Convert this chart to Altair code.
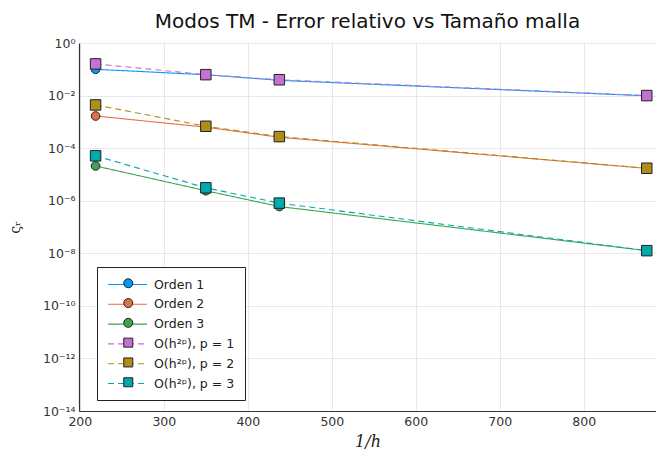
import math
import altair as alt
import pandas as pd

# ---- data ----
inv_h = [218.75, 350.0, 437.5, 875.0]
series_names = ["Orden 1", "Orden 2", "Orden 3",
                "O(h²ᵖ), p = 1", "O(h²ᵖ), p = 2", "O(h²ᵖ), p = 3"]
orden1 = [0.100, 0.062, 0.038, 0.0098]
orden2 = [1.67e-3, 6.3e-4, 2.6e-4, 1.7e-5]
orden3 = [2.1e-5, 2.4e-6, 6.0e-7, 1.26e-8]
ref1 = [0.16, 0.0625, 0.040, 0.010]
ref2 = [4.4e-3, 6.8e-4, 2.75e-4, 1.72e-5]
ref3 = [5.1e-5, 3.1e-6, 8.1e-7, 1.26e-8]

colors = ["#009AFA", "#E36F47", "#3EA44E", "#C371D2", "#AC8E18", "#00A9AD"]
outline = ["#222222"] * 6
shapes = ["circle", "circle", "circle", "square", "square", "square"]
dashes = [[1, 0], [1, 0], [1, 0], [6, 4], [6, 4], [6, 4]]

y_ticks = [1e0, 1e-2, 1e-4, 1e-6, 1e-8, 1e-10, 1e-12, 1e-14]
y_tick_labels = ["10⁰", "10⁻²", "10⁻⁴", "10⁻⁶", "10⁻⁸", "10⁻¹⁰", "10⁻¹²", "10⁻¹⁴"]
x_ticks = [200, 300, 400, 500, 600, 700, 800]

all_values = [orden1, orden2, orden3, ref1, ref2, ref3]
rows = []
for name, vals in zip(series_names, all_values):
    for xv, yv in zip(inv_h, vals):
        rows.append({"x": xv, "y": yv, "series": name, "series_m": name})
df = pd.DataFrame(rows)

# label expression built from the tick label list
expr = "''"
for t, lab in reversed(list(zip(y_ticks, y_tick_labels))):
    expr = f"abs(log(datum.value)/LN10 - ({round(math.log10(t))})) < 0.01 ? '{lab}' : {expr}"

x_enc = alt.X("x:Q", scale=alt.Scale(domain=[199.0, 886.0], nice=False, zero=False),
              axis=alt.Axis(values=x_ticks, title="1/h", titleFont="DejaVu Serif",
                            titleFontStyle="italic", titleFontSize=16, titleFontWeight="normal",
                            titlePadding=6, labelFlush=False))
y_enc = alt.Y("y:Q", scale=alt.Scale(type="log", domain=[1e-14, 1], nice=False),
              axis=alt.Axis(values=y_ticks, labelExpr=expr, title="ςᵣ",
                            titleFont="DejaVu Serif", titleFontSize=14, titleFontWeight="normal",
                            titlePadding=20))

LX, LY = 18, 224
leg1 = dict(orient="none", title=None, legendX=LX, legendY=LY,
            symbolType="M-1,0H5", symbolSize=169, symbolStrokeWidth=1.1,
            labelFontSize=12.5, labelColor="#222", labelFont="DejaVu Sans",
            labelOffset=32, padding=10, rowPadding=5.8,
            strokeColor="#222", fillColor="white")
leg2 = dict(orient="none", title=None, legendX=LX + 15, legendY=LY,
            symbolSize=81, symbolStrokeWidth=1, labelExpr="''",
            labelFontSize=12.5, labelFont="DejaVu Sans",
            padding=10, rowPadding=5.8)

lines = alt.Chart(df).mark_line(strokeWidth=1.1).encode(
    x=x_enc, y=y_enc,
    stroke=alt.Stroke("series:N", sort=series_names,
                      scale=alt.Scale(domain=series_names, range=colors),
                      legend=alt.Legend(**leg1)),
    strokeDash=alt.StrokeDash("series:N", sort=series_names,
                              scale=alt.Scale(domain=series_names, range=dashes),
                              legend=alt.Legend(**leg1)),
    order=alt.Order("x:Q"),
)

points = alt.Chart(df).mark_point(filled=True, strokeWidth=1, opacity=1).encode(
    x=x_enc, y=y_enc,
    fill=alt.Fill("series_m:N", sort=series_names,
                  scale=alt.Scale(domain=series_names, range=colors),
                  legend=alt.Legend(**leg2)),
    stroke=alt.Stroke("series_m:N", sort=series_names,
                      scale=alt.Scale(domain=series_names, range=outline),
                      legend=alt.Legend(**leg2)),
    shape=alt.Shape("series_m:N", sort=series_names,
                    scale=alt.Scale(domain=series_names, range=shapes),
                    legend=alt.Legend(**leg2)),
    size=alt.condition("indexof(datum.series_m, 'O(') == 0",
                       alt.value(110), alt.value(75)),
)

chart = alt.layer(lines, points).resolve_scale(
    stroke="independent", strokeDash="independent",
    fill="independent", shape="independent",
).properties(
    width=577, height=368,
    padding={"left": 0, "top": 4, "right": 0, "bottom": 0},
    title=alt.Title("Modos TM - Error relativo vs Tamaño malla", fontSize=20,
                    fontWeight="normal", font="DejaVu Sans", color="#111",
                    anchor="middle", frame="group", offset=5),
).configure_view(stroke=None).configure_axis(
    grid=True, gridColor="#e8e8e8", gridWidth=1,
    domainColor="#333", domainWidth=1.2, ticks=False,
    labelFont="DejaVu Sans", labelFontSize=12.5, labelColor="#333",
    titleColor="#222", labelPadding=4,
)

chart.save("out.html", embed_options={"renderer": "svg", "actions": False})
